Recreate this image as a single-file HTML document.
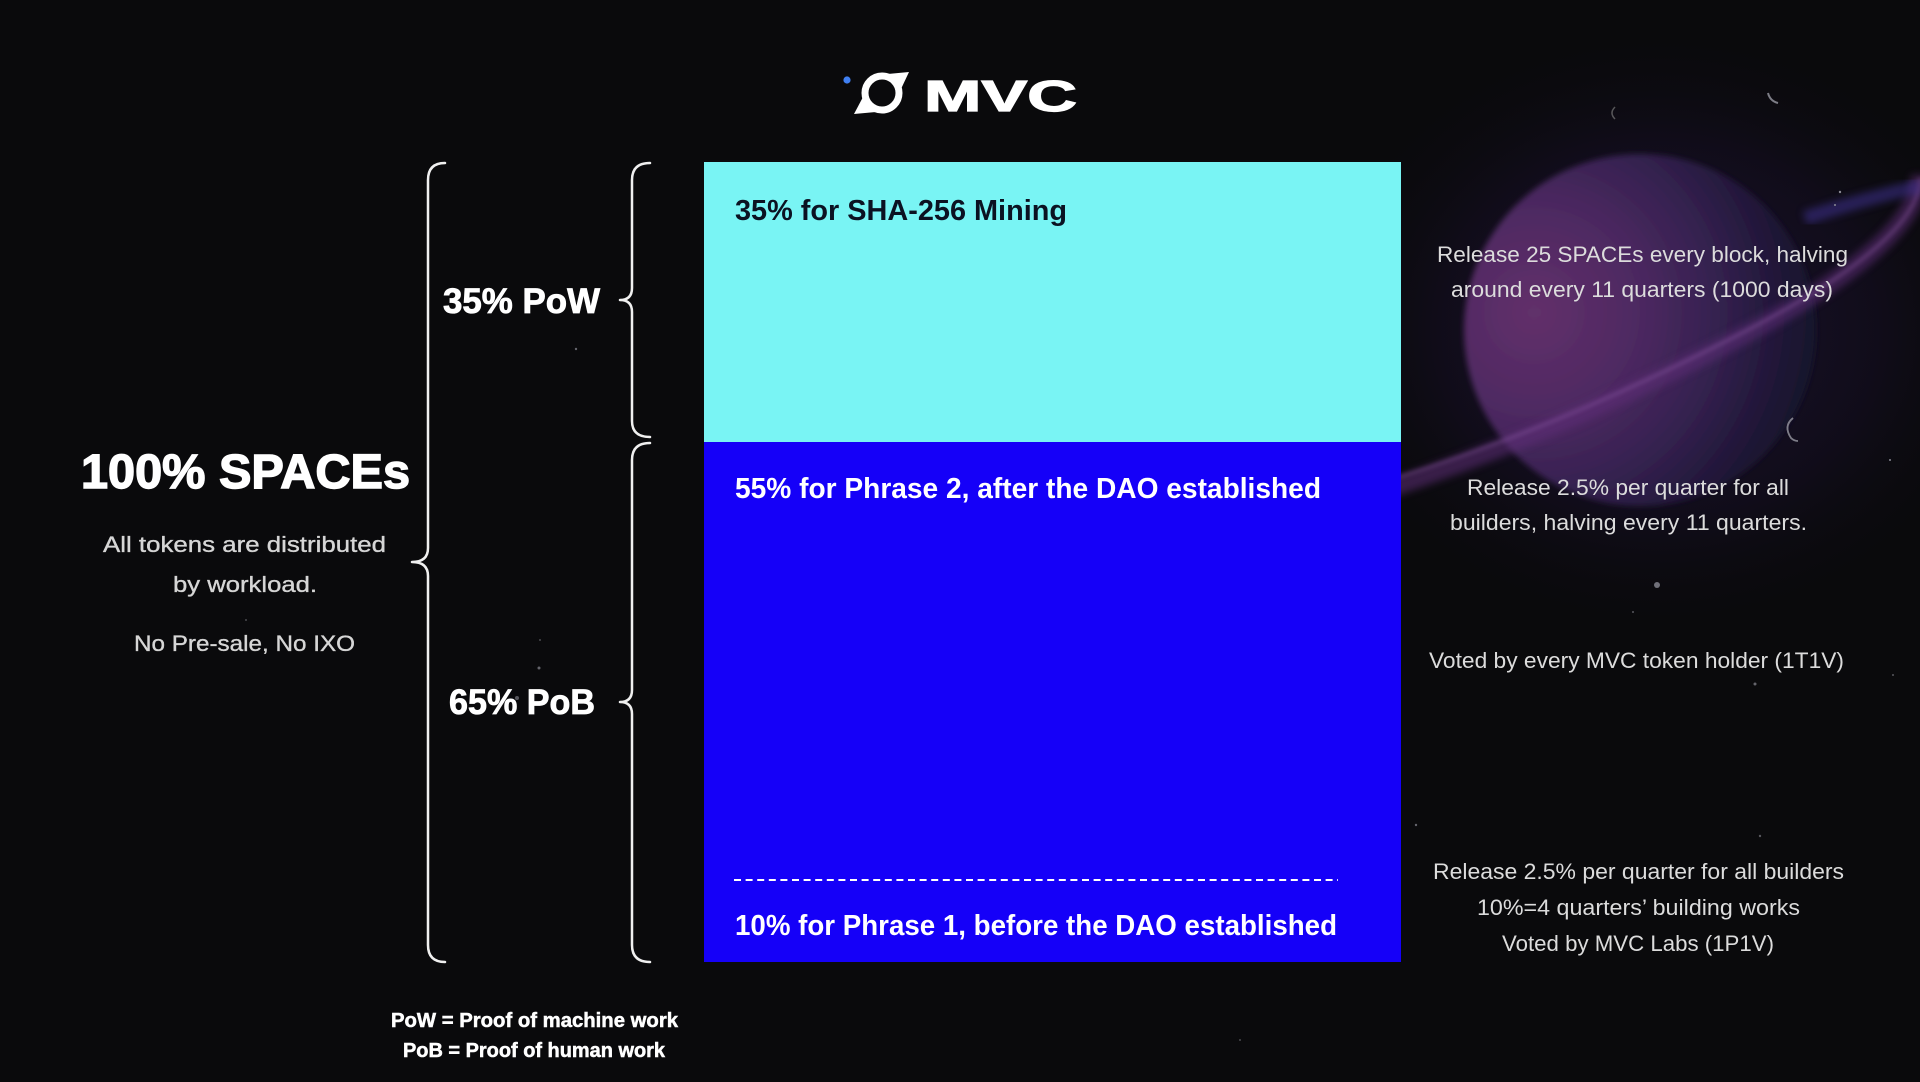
<!DOCTYPE html>
<html>
<head>
<meta charset="utf-8">
<style>
html,body{margin:0;padding:0;background:#0a0a0c;width:1920px;height:1082px;overflow:hidden}
svg{display:block}
</style>
</head>
<body>
<svg width="1920" height="1082" viewBox="0 0 1920 1082" xmlns="http://www.w3.org/2000/svg" font-family="'Liberation Sans', Arial, sans-serif">
  <defs>
    <radialGradient id="haze" cx="0.5" cy="0.5" r="0.5">
      <stop offset="0" stop-color="#22143a" stop-opacity="0.85"/>
      <stop offset="0.6" stop-color="#170f28" stop-opacity="0.5"/>
      <stop offset="1" stop-color="#0a0a0c" stop-opacity="0"/>
    </radialGradient>
    <radialGradient id="sph" cx="0.2" cy="0.45" r="0.95">
      <stop offset="0" stop-color="#62306a"/>
      <stop offset="0.3" stop-color="#4e2962"/>
      <stop offset="0.55" stop-color="#34214f"/>
      <stop offset="0.8" stop-color="#1a1330"/>
      <stop offset="1" stop-color="#120e1e"/>
    </radialGradient>
    <filter id="blur4" x="-20%" y="-20%" width="140%" height="140%"><feGaussianBlur stdDeviation="4"/></filter>
    <filter id="blur3" x="-20%" y="-20%" width="140%" height="140%"><feGaussianBlur stdDeviation="3"/></filter>
    <filter id="blur2" x="-20%" y="-20%" width="140%" height="140%"><feGaussianBlur stdDeviation="2"/></filter>
  </defs>

  <rect width="1920" height="1082" fill="#0a0a0c"/>

  <!-- Planet -->
  <ellipse cx="1660" cy="330" rx="360" ry="310" fill="url(#haze)"/>
  <circle cx="1640" cy="330" r="176" fill="url(#sph)" filter="url(#blur3)"/>
  <path d="M1380,492 Q1560,432 1740,337 T1920,175" fill="none" stroke="#5e2f78" stroke-width="18" opacity="0.55" filter="url(#blur4)"/>
  <path d="M1390,480 Q1560,427 1740,334 T1920,178" fill="none" stroke="#8a58a2" stroke-width="3" opacity="0.5" filter="url(#blur2)"/>
  <path d="M1805,218 Q1860,200 1920,186" fill="none" stroke="#43359a" stroke-width="14" opacity="0.5" filter="url(#blur4)"/>
  <!-- crescents -->
  <path d="M1768,93 q2,8 10,10" fill="none" stroke="#9a9aa4" stroke-width="2" opacity="0.8"/>
  <path d="M1615,107 q-6,6 0,12" fill="none" stroke="#777" stroke-width="1.5" opacity="0.7"/>
  <path d="M1793,418 q-10,8 -2,20 q3,3 7,3" fill="none" stroke="#9a9aa4" stroke-width="1.8" opacity="0.8"/>
  <!-- stars -->
  <g fill="#8a8a94">
    <circle cx="1657" cy="585" r="3" opacity="0.8"/>
    <circle cx="1840" cy="192" r="1.2"/>
    <circle cx="1835" cy="205" r="1"/>
    <circle cx="1890" cy="460" r="1"/>
    <circle cx="1755" cy="684" r="1.5" opacity="0.7"/>
    <circle cx="1416" cy="825" r="1.2" opacity="0.7"/>
    <circle cx="1633" cy="612" r="1" opacity="0.6"/>
    <circle cx="1893" cy="675" r="1" opacity="0.6"/>
    <circle cx="1760" cy="836" r="1.2" opacity="0.6"/>
    <circle cx="576" cy="349" r="1.2" opacity="0.7"/>
    <circle cx="539" cy="668" r="1.5" opacity="0.7"/>
    <circle cx="517" cy="698" r="2" opacity="0.6"/>
    <circle cx="246" cy="620" r="1" opacity="0.5"/>
    <circle cx="540" cy="640" r="1" opacity="0.5"/>
    <circle cx="1240" cy="1040" r="1" opacity="0.5"/>
  </g>

  <!-- Logo -->
  <circle cx="847" cy="80" r="3.6" fill="#3f7ff2"/>
  <circle cx="882" cy="93" r="17" fill="none" stroke="#ffffff" stroke-width="7"/>
  <polygon points="888,74 909,72 901,89" fill="#ffffff"/>
  <polygon points="876,112 854,114 863,97" fill="#ffffff"/>
  <text x="924" y="111" font-size="44" font-weight="bold" fill="#ffffff" stroke="#ffffff" stroke-width="1.2" textLength="153" lengthAdjust="spacingAndGlyphs">MVC</text>

  <!-- Braces -->
  <g fill="none" stroke="#f0f0f0" stroke-width="2.5" stroke-linecap="round" stroke-linejoin="round">
    <path d="M445,163 Q428,163 428,180 L428,548 Q428,562 412,562 Q428,562 428,576 L428,945 Q428,962 445,962"/>
    <path d="M650,163 Q632,163 632,180 L632,288 Q632,300 620,300 Q632,300 632,312 L632,421 Q632,437 650,437"/>
    <path d="M650,443 Q632,443 632,460 L632,690 Q632,702 620,702 Q632,702 632,714 L632,945 Q632,962 650,962"/>
  </g>

  <!-- Bar -->
  <rect x="704" y="162" width="697" height="280" fill="#79f4f4"/>
  <rect x="704" y="442" width="697" height="520" fill="#1500f8"/>
  <line x1="734" y1="880" x2="1338" y2="880" stroke="#ffffff" stroke-width="2" stroke-dasharray="7,4.6"/>

  <text x="735" y="220" font-size="29" font-weight="bold" fill="#0b1222" textLength="332" lengthAdjust="spacingAndGlyphs">35% for SHA-256 Mining</text>
  <text x="735" y="498" font-size="29" font-weight="bold" fill="#ffffff" textLength="586" lengthAdjust="spacingAndGlyphs">55% for Phrase 2, after the DAO established</text>
  <text x="735" y="935" font-size="29" font-weight="bold" fill="#ffffff" textLength="602" lengthAdjust="spacingAndGlyphs">10% for Phrase 1, before the DAO established</text>

  <!-- Left labels -->
  <text x="443" y="313" font-size="35" font-weight="bold" fill="#ffffff" stroke="#ffffff" stroke-width="0.8" textLength="157" lengthAdjust="spacingAndGlyphs">35% PoW</text>
  <text x="449" y="714" font-size="35" font-weight="bold" fill="#ffffff" stroke="#ffffff" stroke-width="0.8" textLength="146" lengthAdjust="spacingAndGlyphs">65% PoB</text>

  <text x="81" y="488" font-size="48" font-weight="bold" fill="#ffffff" stroke="#ffffff" stroke-width="1.4" textLength="329" lengthAdjust="spacingAndGlyphs">100% SPACEs</text>
  <g font-size="22" fill="#d6d6d6" stroke="#d6d6d6" stroke-width="0.35">
    <text x="103" y="552" textLength="283" lengthAdjust="spacingAndGlyphs">All tokens are distributed</text>
    <text x="173" y="592" textLength="144" lengthAdjust="spacingAndGlyphs">by workload.</text>
    <text x="134" y="651" textLength="221" lengthAdjust="spacingAndGlyphs">No Pre-sale, No IXO</text>
  </g>

  <!-- Footnotes -->
  <text x="391" y="1027" font-size="20" font-weight="bold" fill="#ffffff" stroke="#ffffff" stroke-width="0.5" textLength="287" lengthAdjust="spacingAndGlyphs">PoW = Proof of machine work</text>
  <text x="403" y="1057" font-size="20" font-weight="bold" fill="#ffffff" stroke="#ffffff" stroke-width="0.5" textLength="262" lengthAdjust="spacingAndGlyphs">PoB = Proof of human work</text>

  <!-- Right descriptions -->
  <g font-size="22" fill="#dcdcdc">
    <text x="1437" y="262" textLength="411" lengthAdjust="spacingAndGlyphs">Release 25 SPACEs every block, halving</text>
    <text x="1451" y="297" textLength="382" lengthAdjust="spacingAndGlyphs">around every 11 quarters (1000 days)</text>
    <text x="1467" y="495" textLength="322" lengthAdjust="spacingAndGlyphs">Release 2.5% per quarter for all</text>
    <text x="1450" y="530" textLength="357" lengthAdjust="spacingAndGlyphs">builders, halving every 11 quarters.</text>
    <text x="1429" y="668" textLength="415" lengthAdjust="spacingAndGlyphs">Voted by every MVC token holder (1T1V)</text>
    <text x="1433" y="879" textLength="411" lengthAdjust="spacingAndGlyphs">Release 2.5% per quarter for all builders</text>
    <text x="1477" y="915" textLength="323" lengthAdjust="spacingAndGlyphs">10%=4 quarters’ building works</text>
    <text x="1502" y="951" textLength="272" lengthAdjust="spacingAndGlyphs">Voted by MVC Labs (1P1V)</text>
  </g>
</svg>
</body>
</html>
